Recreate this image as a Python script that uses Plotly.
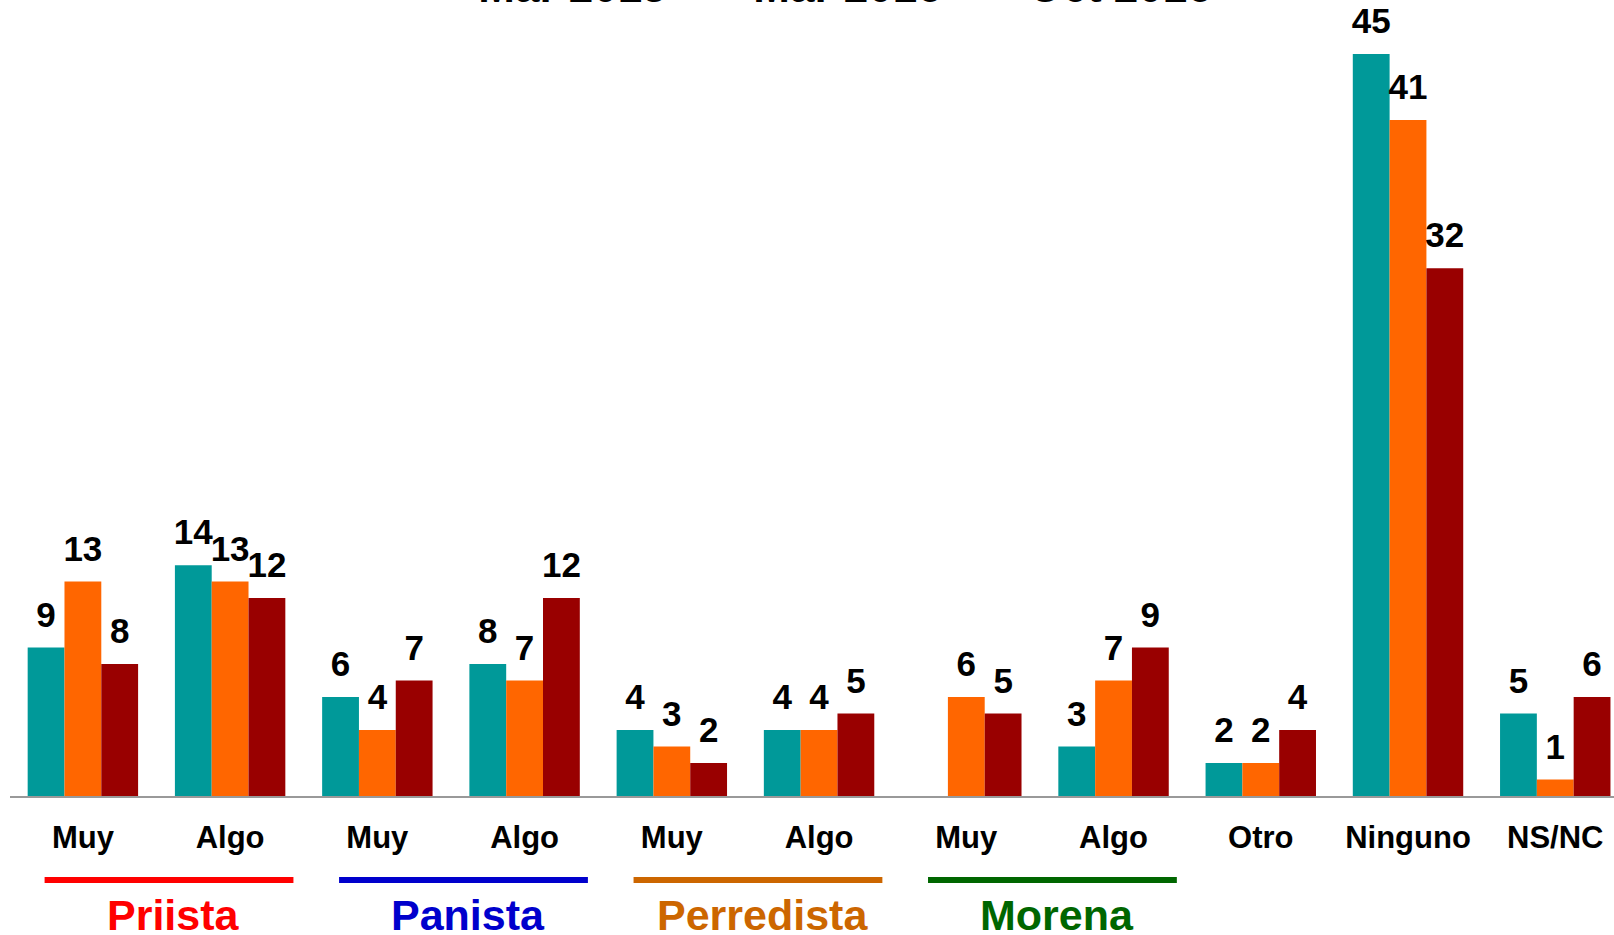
import plotly.graph_objects as go

categories = ["Muy", "Algo", "Muy", "Algo", "Muy", "Algo", "Muy", "Algo", "Otro", "Ninguno", "NS/NC"]
series_names = ["Mar 2015", "Mar 2016", "Oct 2016"]
series_1 = [9, 14, 6, 8, 4, 4, None, 3, 2, 45, 5]
series_2 = [13, 13, 4, 7, 3, 4, 6, 7, 2, 41, 1]
series_3 = [8, 12, 7, 12, 2, 5, 5, 9, 4, 32, 6]
series_colors = ["#009999", "#FF6600", "#990000"]

group_names = ["Priista", "Panista", "Perredista", "Morena"]
group_colors = ["#FF0000", "#0000CC", "#CC6600", "#006600"]
group_first_index = [0, 2, 4, 6]

FONT = "Liberation Sans, Arial, sans-serif"
xpos = list(range(len(categories)))

fig = go.Figure()
for k, (name, vals, col) in enumerate(zip(series_names, [series_1, series_2, series_3], series_colors)):
    fig.add_trace(go.Bar(
        x=xpos, y=vals, name=name,
        marker=dict(color=col, line=dict(width=0)),
        offsetgroup=str(k), alignmentgroup="a",
        hoverinfo="skip",
    ))
for k, vals in enumerate([series_1, series_2, series_3]):
    fig.add_trace(go.Scatter(
        x=xpos, y=vals, mode="markers+text",
        marker=dict(size=18, opacity=0),
        text=[("" if v is None else str(v)) for v in vals],
        textposition="top center",
        textfont=dict(family=FONT, size=35, color="black", weight="bold"),
        offsetgroup=str(k), alignmentgroup="a",
        showlegend=False, hoverinfo="skip", cliponaxis=False,
    ))

shapes = []
annotations = []
for gname, gcol, gi in zip(group_names, group_colors, group_first_index):
    x0 = gi - 0.26
    x1 = gi + 1.43
    shapes.append(dict(type="line", xref="x", yref="paper", x0=x0, x1=x1,
                       y0=-0.1055, y1=-0.1055, line=dict(color=gcol, width=6)))
    annotations.append(dict(text=gname, xref="x", yref="paper", x=gi + 0.615,
                            y=-0.15, yanchor="middle", xanchor="center", showarrow=False,
                            font=dict(family=FONT, size=43, color=gcol, weight="bold")))

fig.update_layout(
    width=1614, height=935,
    barmode="group", bargap=0.25, bargroupgap=0,
    scattermode="group", scattergap=0.25,
    plot_bgcolor="white", paper_bgcolor="white",
    margin=dict(l=10, r=0, t=0, b=139, autoexpand=False),
    shapes=shapes, annotations=annotations,
    showlegend=True, hovermode=False,
    legend=dict(orientation="h", x=0.267, xanchor="left", y=1.019, yanchor="middle",
                font=dict(family=FONT, size=44, color="black", weight="bold"),
                entrywidth=230, entrywidthmode="pixels", bgcolor="rgba(0,0,0,0)"),
    xaxis=dict(range=[-0.495, 10.399], tickmode="array", tickvals=xpos, ticktext=categories,
               showline=True, linecolor="#999999", linewidth=2, showgrid=False, zeroline=False,
               ticks="", ticklabelstandoff=13,
               tickfont=dict(family=FONT, size=31, color="black", weight="bold")),
    yaxis=dict(range=[0, 48.27], visible=False, showgrid=False),
)

fig.write_html("out.html", config={"displayModeBar": False},
               post_script="document.body.style.margin='0';document.body.style.overflow='hidden';")
